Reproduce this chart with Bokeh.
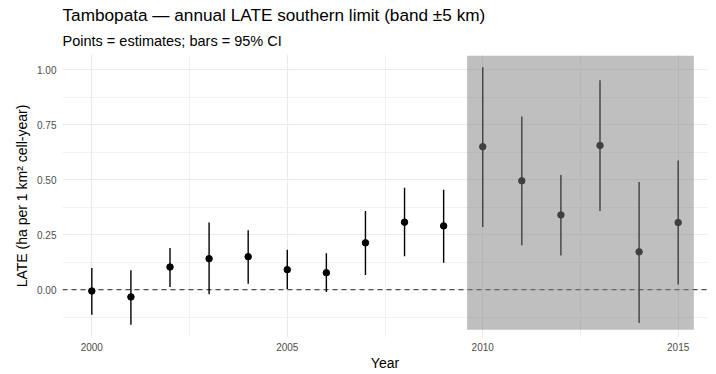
from bokeh.plotting import figure
from bokeh.models import FixedTicker, PrintfTickFormatter, Span, Title, Range1d, ColumnDataSource
from bokeh.embed import file_html
from bokeh.resources import INLINE

# ---- data ----
years = [2000, 2001, 2002, 2003, 2004, 2005, 2006, 2007,
         2008, 2009, 2010, 2011, 2012, 2013, 2014, 2015]
estimate = [-0.006, -0.033, 0.103, 0.141, 0.150, 0.091, 0.077, 0.213,
            0.307, 0.290, 0.650, 0.495, 0.340, 0.656, 0.172, 0.305]
ci_lower = [-0.114, -0.159, 0.012, -0.021, 0.027, 0.002, -0.011, 0.067,
            0.152, 0.123, 0.285, 0.202, 0.155, 0.358, -0.152, 0.023]
ci_upper = [0.099, 0.088, 0.190, 0.305, 0.270, 0.181, 0.166, 0.358,
            0.463, 0.454, 1.011, 0.788, 0.521, 0.952, 0.490, 0.588]

x_ticks = [2000, 2005, 2010, 2015]
x_minor_ticks = [2002.5, 2007.5, 2012.5]
y_ticks = [0.0, 0.25, 0.5, 0.75, 1.0]
y_minor_ticks = [-0.125, 0.125, 0.375, 0.625, 0.875]

band_x = [2009.6, 2015.4]
band_y = [-0.182, 1.064]
ref_line = 0.0

title_text = "Tambopata \u2014 annual LATE southern limit (band \u00b15 km)"
subtitle_text = "Points = estimates; bars = 95% CI"
x_label = "Year"
y_label = "LATE (ha per 1 km\u00b2 cell-year)"

FONT = "Liberation Sans"

src = ColumnDataSource(dict(year=years, est=estimate, lo=ci_lower, hi=ci_upper))

p = figure(width=716, height=374, output_backend="svg", toolbar_location=None,
           x_range=Range1d(1999.25, 2015.75), y_range=Range1d(-0.2175, 1.0695),
           min_border_left=62, min_border_right=9, min_border_top=54,
           min_border_bottom=37)
p.outline_line_color = None
p.background_fill_color = "white"
p.border_fill_color = "white"

# grids
p.xgrid.ticker = FixedTicker(ticks=x_ticks, minor_ticks=x_minor_ticks)
p.ygrid.ticker = FixedTicker(ticks=y_ticks, minor_ticks=y_minor_ticks)
for g in (p.xgrid, p.ygrid):
    g.grid_line_color = "#ebebeb"
    g.grid_line_width = 1.2
    g.minor_grid_line_color = "#ebebeb"
    g.minor_grid_line_width = 0.7

# reference line
span = Span(location=ref_line, dimension="width", line_color="#4d4d4d",
            line_width=1.1, line_dash="5 4", level="underlay")
p.add_layout(span)

# error bars and points
p.segment(x0="year", y0="lo", x1="year", y1="hi", source=src,
          line_color="black", line_width=1.4)
p.scatter(x="year", y="est", source=src, size=6.5, fill_color="black",
          line_color="black")

# shaded band (drawn on top, semi-transparent)
p.quad(left=[band_x[0]], right=[band_x[1]], bottom=[band_y[0]], top=[band_y[1]],
       fill_color="#7f7f7f", fill_alpha=0.5, line_color=None)

# axes
p.xaxis.ticker = FixedTicker(ticks=x_ticks)
p.yaxis.ticker = FixedTicker(ticks=y_ticks)
p.yaxis.formatter = PrintfTickFormatter(format="%.2f")
for ax in (p.xaxis, p.yaxis):
    ax.axis_line_color = None
    ax.major_tick_line_color = None
    ax.minor_tick_line_color = None
    ax.major_tick_out = 0
    ax.major_tick_in = 0
    ax.major_label_text_font = FONT
    ax.major_label_text_font_size = "10px"
    ax.major_label_text_color = "#4d4d4d"
    ax.axis_label_text_font = FONT
    ax.axis_label_text_font_size = "14px"
    ax.axis_label_text_font_style = "normal"
    ax.axis_label_text_color = "black"
p.xaxis.axis_label = x_label
p.yaxis.axis_label = y_label
p.xaxis.major_label_standoff = 5
p.xaxis.axis_label_standoff = 1
p.yaxis.major_label_standoff = 6
p.yaxis.axis_label_standoff = 4

# titles (subtitle first = closest to the plot)
p.add_layout(Title(text=subtitle_text, text_font=FONT, text_font_size="14.5px",
                   text_font_style="normal", text_color="black", align="left",
                   standoff=11), "above")
p.add_layout(Title(text=title_text, text_font=FONT, text_font_size="17.2px",
                   text_font_style="normal", text_color="black", align="left",
                   standoff=1), "above")

open("out.html", "w").write(file_html(p, INLINE))
